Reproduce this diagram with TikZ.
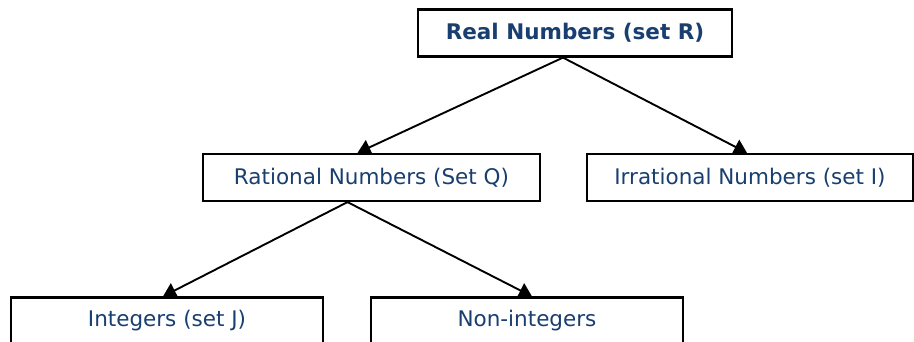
\documentclass[tikz,border=0pt]{standalone}
\usepackage{xcolor}
\usepackage{fontspec}
\setmainfont{DejaVu Sans}
\usetikzlibrary{arrows.meta}

\definecolor{setblue}{RGB}{25,62,112}

\begin{document}
\begin{tikzpicture}[x=1pt, y=-1pt,
    setbox/.style={draw=black, line width=2.2pt, fill=white, text=setblue,
        inner sep=0pt, minimum height=47pt, font=\fontsize{21.5}{24}\selectfont},
    link/.style={line width=1.9pt, -{Triangle[width=16pt,length=13pt]}}]
        \useasboundingbox (0,0) rectangle (914,342);

        % Top of the tree
        \node[setbox, minimum width=314pt, font=\fontsize{21.5}{24}\selectfont\bfseries] (real) at (575,33) {Real Numbers (set R)};

        % Second level
        \node[setbox, minimum width=337pt] (rational) at (371.5,177.5) {Rational Numbers (Set Q)};
        \node[setbox, minimum width=326pt] (irrational) at (750,177.5) {Irrational Numbers (set I)};

        % Third level, below the rationals
        \node[setbox, minimum width=312pt] (integers) at (167,321) {Integers (set J)};
        \node[setbox, minimum width=312pt] (nonint) at (527,321) {Non-integers};

        % Arrows
        \draw[link] ([xshift=-12pt]real.south) -- ([xshift=-14pt]rational.north);
        \draw[link] ([xshift=-12pt]real.south) -- ([xshift=-3pt]irrational.north);
        \draw[link] ([xshift=-24pt]rational.south) -- ([xshift=-4pt]integers.north);
        \draw[link] ([xshift=-24pt]rational.south) -- ([xshift=5pt]nonint.north);

    \end{tikzpicture}
\end{document}
